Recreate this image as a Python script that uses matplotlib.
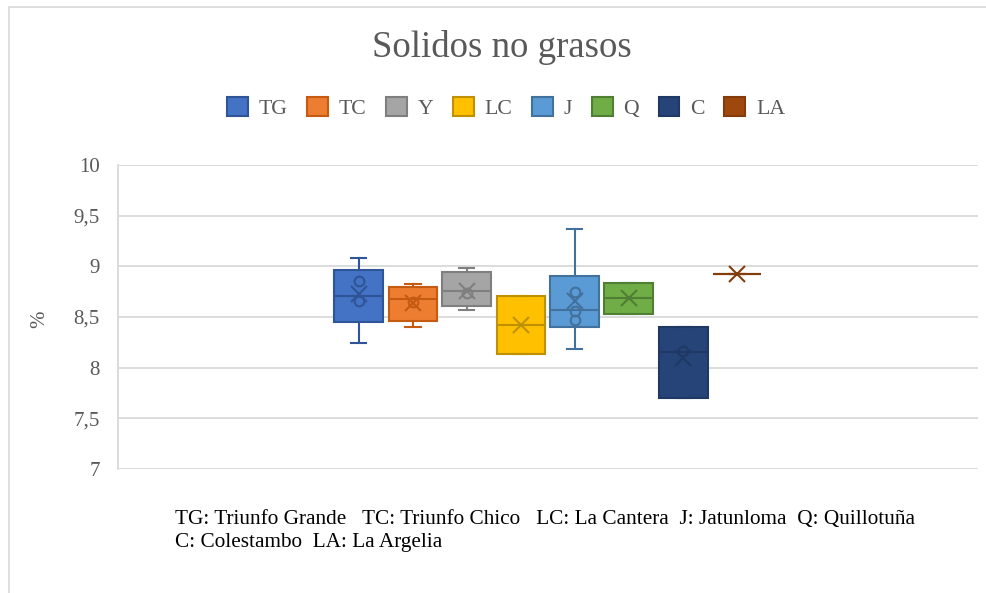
import matplotlib
matplotlib.use('Agg')
import matplotlib.pyplot as plt
from matplotlib.patches import Rectangle, Patch
import numpy as np

plt.rcParams['font.family'] = ['Liberation Serif', 'DejaVu Serif']

# datos (Solidos no grasos, %)
names = ['TG', 'TC', 'Y', 'LC', 'J', 'Q', 'C', 'LA']
q1 = [8.45, 8.46, 8.61, 8.13, 8.40, 8.53, 7.70, 8.92]
med = [8.71, 8.68, 8.76, 8.42, 8.57, 8.69, 8.15, 8.92]
q3 = [8.96, 8.80, 8.94, 8.71, 8.90, 8.84, 8.40, 8.92]
whislo = [8.24, 8.40, 8.57, 8.13, 8.18, 8.53, 7.70, 8.92]
whishi = [9.08, 8.83, 8.98, 8.71, 9.37, 8.84, 8.40, 8.92]
means = [8.73, 8.64, 8.76, 8.42, 8.66, 8.69, 8.10, 8.92]
inner = [[8.86, 8.66], [8.645], [8.74], [], [8.75, 8.56, 8.47], [], [8.16], []]

yticks = [7, 7.5, 8, 8.5, 9, 9.5, 10]
yticklabels = ['7', '7,5', '8', '8,5', '9', '9,5', '10']

colors = ['#4472C4', '#ED7D31', '#A5A5A5', '#FFC000', '#5B9BD5', '#70AD47', '#264478', '#9E480E']
edges = ['#2F5597', '#C55A11', '#7F7F7F', '#BF9000', '#41719C', '#507E32', '#1F3864', '#843C0C']

fig = plt.figure(figsize=(9.87, 5.93), dpi=100)
ax = fig.add_axes([118/987, 1-469/593, 860/987, 304/593])

step = 54/860
width = 49/860
pos = [0.5 + (i - 3.5)*step for i in range(len(names))]

for i in range(len(names)):
    st = dict(med=med[i], q1=q1[i], q3=q3[i], whislo=whislo[i], whishi=whishi[i],
              mean=means[i], fliers=[])
    lp = dict(color=edges[i], lw=1.5)
    ax.bxp([st], positions=[pos[i]], widths=width, capwidths=15/860, patch_artist=True,
           showmeans=True, showfliers=False,
           boxprops=dict(facecolor=colors[i], edgecolor=edges[i], lw=1.5),
           medianprops=lp, whiskerprops=lp, capprops=lp,
           meanprops=dict(marker='x', markeredgecolor=edges[i], markersize=11, mew=1.5),
           manage_ticks=False, zorder=3)
    if inner[i]:
        ax.plot([pos[i]]*len(inner[i]), inner[i], 'o', mfc='none', mec=edges[i],
                ms=7, mew=1.5, zorder=4)

ax.set_xlim(0, 1)
ax.set_ylim(7, 10)
ax.set_yticks(yticks)
ax.set_yticklabels(yticklabels, fontsize=15, color='#595959')
ax.set_xticks([])
ax.tick_params(axis='y', length=0, pad=13)
ax.grid(axis='y', color='#D9D9D9', lw=1.3)
ax.set_axisbelow(True)
for s in ['top', 'right', 'bottom']:
    ax.spines[s].set_visible(False)
ax.spines['left'].set_color('#D9D9D9')
ax.spines['left'].set_linewidth(1.3)

fig.text(40/987, 1-319/593, '%', rotation=90, fontsize=15, color='#595959',
         ha='center', va='center')
fig.text(502/987, 1-57/593, 'Solidos no grasos', fontsize=26.5, color='#595959',
         ha='center', va='baseline')

handles = [Patch(facecolor=colors[i], edgecolor=edges[i], lw=1.5) for i in range(len(names))]
fig.legend(handles, names, loc='center', bbox_to_anchor=(506/987, 1-108/593), ncol=8,
           frameon=False, fontsize=15.7, labelcolor='#595959', handlelength=0.95,
           handleheight=0.95, handletextpad=0.5, columnspacing=0.9)

fig.text(175/987, 1-531/593,
         'TG: Triunfo Grande   TC: Triunfo Chico   LC: La Cantera  J: Jatunloma  Q: Quillotuña\n'
         'C: Colestambo  LA: La Argelia',
         fontsize=15.3, color='black', ha='left', va='center', linespacing=1.3)

fig.patches.append(Rectangle((9/987, -0.1), 1.5, 1.1 - 7/593, transform=fig.transFigure,
                             fill=False, edgecolor='#D9D9D9', lw=1.2))

fig.savefig('out.png', dpi=100)
